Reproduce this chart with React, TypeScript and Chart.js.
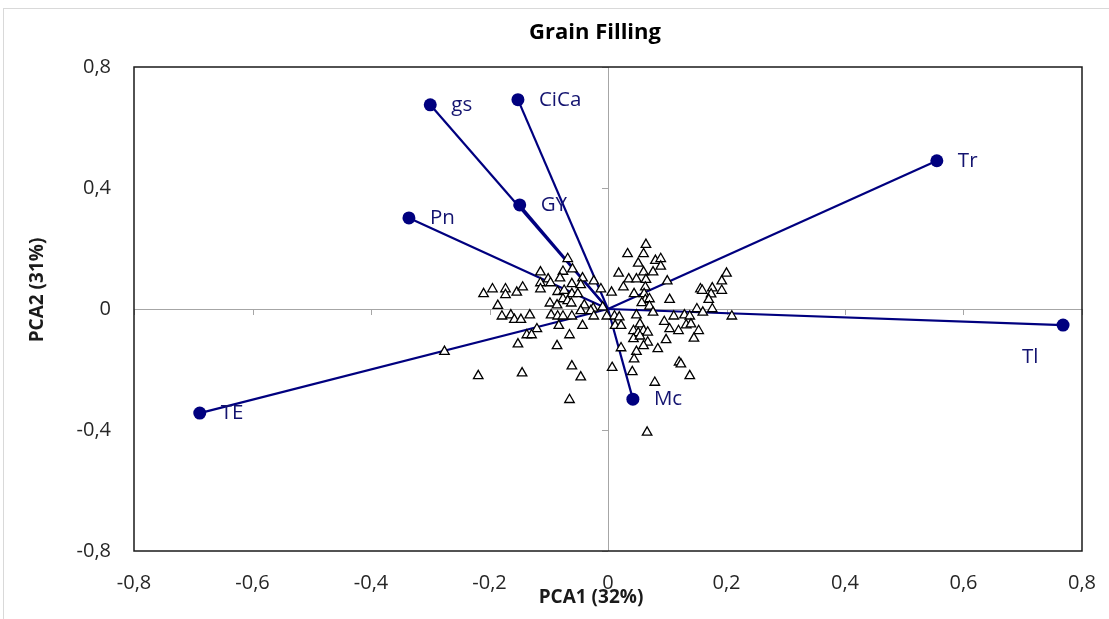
import React, { useEffect, useRef } from 'react';
import { Chart, registerables } from 'chart.js';

Chart.register(...registerables);

const chartTitle = 'Grain Filling';
const xAxisTitle = 'PCA1 (32%)';
const yAxisTitle = 'PCA2 (31%)';

const variableNames = ['gs', 'CiCa', 'GY', 'Pn', 'Tr', 'Tl', 'TE', 'Mc'];
const loadingPC1 = [-0.300, -0.152, -0.149, -0.336, 0.555, 0.768, -0.689, 0.042];
const loadingPC2 = [0.675, 0.692, 0.344, 0.301, 0.490, -0.053, -0.344, -0.298];

const scoresPC1 = [
  0.064, 0.033, 0.060, 0.051, 0.080, 0.089, 0.089, -0.068, -0.060, -0.114,
  -0.076, 0.018, 0.060, 0.076, 0.200, -0.101, -0.081, -0.043, -0.024, 0.035,
  0.048, 0.064, 0.100, 0.192, -0.114, -0.097, -0.061, -0.046, -0.012, 0.006,
  0.026, 0.063, 0.156, 0.176, 0.192, -0.210, -0.195, -0.173, -0.173, -0.154,
  -0.144, -0.114, -0.085, -0.074, -0.061, -0.051, 0.044, 0.061, 0.159, 0.174,
  -0.076, -0.068, 0.063, 0.070, 0.104, 0.170, -0.186, -0.098, -0.086, -0.062,
  -0.040, -0.025, -0.009, 0.057, 0.070, 0.150, 0.176, -0.179, -0.164, -0.158,
  -0.147, -0.132, -0.096, -0.085, -0.076, -0.061, -0.046, -0.029, -0.024, -0.002,
  0.011, 0.019, 0.048, 0.076, 0.111, 0.129, 0.138, 0.160, 0.209, -0.083,
  -0.043, 0.012, 0.022, 0.054, 0.095, 0.104, 0.119, 0.132, 0.140, 0.153,
  -0.120, -0.137, -0.129, -0.065, 0.043, 0.051, 0.060, 0.067, 0.043, 0.054,
  0.067, 0.060, 0.098, 0.145, -0.152, -0.086, 0.022, 0.048, 0.084, 0.044,
  -0.276, -0.219, -0.145, -0.061, -0.046, 0.007, 0.041, 0.120, 0.123, 0.138,
  0.079, -0.065, 0.066,
];
const scoresPC2 = [
  0.213, 0.182, 0.182, 0.151, 0.160, 0.166, 0.141, 0.166, 0.132, 0.122,
  0.124, 0.118, 0.122, 0.122, 0.118, 0.099, 0.102, 0.102, 0.092, 0.099,
  0.099, 0.097, 0.092, 0.092, 0.086, 0.086, 0.083, 0.080, 0.066, 0.055,
  0.072, 0.072, 0.066, 0.069, 0.061, 0.050, 0.066, 0.066, 0.047, 0.055,
  0.072, 0.066, 0.057, 0.061, 0.050, 0.050, 0.050, 0.050, 0.061, 0.049,
  0.033, 0.027, 0.030, 0.033, 0.031, 0.031, 0.011, 0.019, 0.013, 0.019,
  0.013, 0.002, 0.006, 0.020, 0.009, 0.000, 0.000, -0.024, -0.020, -0.035,
  -0.035, -0.020, -0.020, -0.024, -0.024, -0.024, -0.006, -0.006, -0.024, -0.024,
  -0.024, -0.027, -0.020, -0.011, -0.024, -0.020, -0.024, -0.011, -0.024, -0.055,
  -0.055, -0.055, -0.055, -0.050, -0.042, -0.066, -0.072, -0.053, -0.050, -0.072,
  -0.066, -0.086, -0.086, -0.086, -0.072, -0.079, -0.072, -0.077, -0.099, -0.090,
  -0.110, -0.122, -0.102, -0.097, -0.116, -0.122, -0.129, -0.141, -0.132, -0.166,
  -0.141, -0.221, -0.212, -0.189, -0.225, -0.194, -0.208, -0.176, -0.182, -0.221,
  -0.243, -0.300, -0.408,
];

const xTickLabels = ['-0,8', '-0,6', '-0,4', '-0,2', '0', '0,2', '0,4', '0,6', '0,8'];
const yTickLabels = ['-0,8', '-0,4', '0', '0,4', '0,8'];

const FONT = '"Open Sans", "Noto Sans", sans-serif';
const NAVY = '#00007f';
const LABEL_COLOR = '#141470';

export default function App() {
  const canvasRef = useRef<HTMLCanvasElement | null>(null);

  useEffect(() => {
    if (!canvasRef.current) return;

    const scoreData = scoresPC1.map((x, i) => ({ x, y: scoresPC2[i] }));
    const loadingDatasets = variableNames.map((name, i) => ({
      label: name,
      data: [
        { x: 0, y: 0 },
        { x: loadingPC1[i], y: loadingPC2[i] },
      ],
      showLine: true,
      borderColor: NAVY,
      borderWidth: 2.2,
      pointRadius: [0, 6.5],
      pointBackgroundColor: NAVY,
      pointBorderColor: NAVY,
      pointBorderWidth: 0,
      order: 1,
    }));

    const labelOffsets: Record<string, [number, number]> = {
      Tl: [-41, 32],
    };

    const decorPlugin = {
      id: 'decor',
      beforeDraw(chart: any) {
        const { ctx } = chart;
        ctx.save();
        ctx.fillStyle = '#ffffff';
        ctx.fillRect(0, 0, chart.width, chart.height);
        ctx.strokeStyle = '#d9d9d9';
        ctx.lineWidth = 1;
        ctx.strokeRect(3.5, 8.5, 1300, 800);
        ctx.restore();
      },
      beforeDatasetsDraw(chart: any) {
        const { ctx, scales } = chart;
        const xs = scales.x;
        const ys = scales.y;
        const x0 = xs.getPixelForValue(0);
        const y0 = ys.getPixelForValue(0);
        ctx.save();
        ctx.strokeStyle = '#a6a6a6';
        ctx.lineWidth = 1;
        ctx.beginPath();
        xs.ticks.forEach((t: any) => {
          const px = Math.round(xs.getPixelForValue(t.value)) + 0.5;
          ctx.moveTo(px, y0);
          ctx.lineTo(px, y0 + 6);
        });
        ys.ticks.forEach((t: any) => {
          const py = Math.round(ys.getPixelForValue(t.value)) + 0.5;
          ctx.moveTo(x0, py);
          ctx.lineTo(x0 - 6, py);
        });
        ctx.stroke();
        ctx.restore();
      },
      afterDatasetsDraw(chart: any) {
        const { ctx } = chart;
        ctx.save();
        ctx.font = `20.5px ${FONT}`;
        ctx.fillStyle = LABEL_COLOR;
        ctx.textAlign = 'left';
        ctx.textBaseline = 'middle';
        variableNames.forEach((name, i) => {
          const meta = chart.getDatasetMeta(i + 1);
          const pt = meta.data[1];
          if (!pt) return;
          const off = labelOffsets[name] || [21, 0];
          ctx.fillText(name, pt.x + off[0], pt.y + off[1]);
        });
        ctx.restore();
      },
      afterDraw(chart: any) {
        const { ctx, chartArea } = chart;
        ctx.save();
        ctx.strokeStyle = '#1a1a1a';
        ctx.lineWidth = 1.5;
        ctx.strokeRect(chartArea.left, chartArea.top, chartArea.right - chartArea.left, chartArea.bottom - chartArea.top);
        ctx.fillStyle = '#000000';
        ctx.textAlign = 'center';
        ctx.textBaseline = 'alphabetic';
        ctx.font = `bold 22px ${FONT}`;
        ctx.fillText(chartTitle, 595, 38.5);
        ctx.fillStyle = '#1a1a1a';
        ctx.font = `bold 19px ${FONT}`;
        ctx.textBaseline = 'middle';
        ctx.fillText(xAxisTitle, 591, 598);
        ctx.translate(38, 290);
        ctx.rotate(-Math.PI / 2);
        ctx.fillText(yAxisTitle, 0, 0);
        ctx.restore();
      },
    };

    const zeroGrid = (ctx: any) =>
      ctx.tick && Math.abs(ctx.tick.value) < 1e-9 ? '#a6a6a6' : 'rgba(0,0,0,0)';

    const chart = new Chart(canvasRef.current, {
      type: 'scatter',
      data: {
        datasets: [
          {
            label: 'scores',
            data: scoreData,
            pointStyle: 'triangle',
            pointRadius: 5.5,
            pointBorderWidth: 1.3,
            pointBorderColor: '#000000',
            pointBackgroundColor: '#ffffff',
            showLine: false,
            order: 0,
          },
          ...loadingDatasets,
        ] as any,
      },
      options: {
        animation: false,
        responsive: false,
        maintainAspectRatio: false,
        layout: { padding: { left: 0, right: 27, top: 67, bottom: 0 } },
        plugins: {
          legend: { display: false },
          tooltip: { enabled: false },
          title: { display: false },
        },
        scales: {
          x: {
            type: 'linear',
            min: -0.8,
            max: 0.8,
            afterFit: (scale: any) => {
              scale.height = 68;
              scale.paddingLeft = 0;
              scale.paddingRight = 0;
            },
            ticks: {
              stepSize: 0.2,
              padding: 20,
              color: '#262626',
              font: { family: FONT, size: 20 },
              callback: (_v: any, i: number) => xTickLabels[i],
            },
            grid: { color: zeroGrid, drawTicks: false, lineWidth: 1 },
            border: { display: false },
            title: { display: false },
          },
          y: {
            type: 'linear',
            min: -0.8,
            max: 0.8,
            afterFit: (scale: any) => {
              scale.width = 134;
              scale.paddingTop = 0;
              scale.paddingBottom = 0;
            },
            ticks: {
              stepSize: 0.4,
              padding: 23,
              color: '#262626',
              font: { family: FONT, size: 20 },
              callback: (_v: any, i: number) => yTickLabels[i],
            },
            grid: { color: zeroGrid, drawTicks: false, lineWidth: 1 },
            border: { display: false },
            title: { display: false },
          },
        },
      } as any,
      plugins: [decorPlugin],
    });

    return () => {
      chart.destroy();
    };
  }, []);

  return (
    <div style={{ position: 'fixed', left: 0, top: 0, width: 1109, height: 619, background: '#fff' }}>
      <canvas ref={canvasRef} width={1109} height={619} style={{ width: 1109, height: 619, display: 'block' }} />
    </div>
  );
}
